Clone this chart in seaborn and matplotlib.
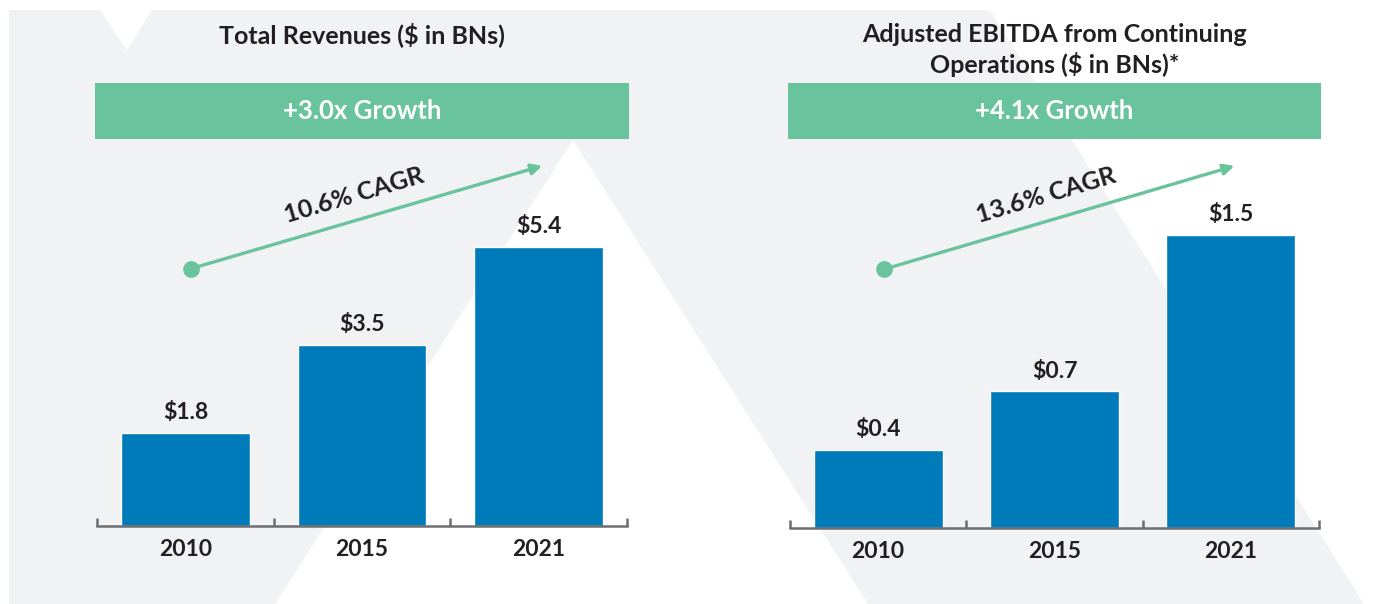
import matplotlib.pyplot as plt
from matplotlib.patches import Polygon, Rectangle
import seaborn as sns

# Data
years = ["2010", "2015", "2021"]
revenue = [1.8, 3.5, 5.4]
ebitda = [0.4, 0.7, 1.5]
titles = ["Total Revenues ($ in BNs)",
          "Adjusted EBITDA from Continuing\nOperations ($ in BNs)*"]
growth = ["+3.0x Growth", "+4.1x Growth"]
cagr = ["10.6% CAGR", "13.6% CAGR"]

BLUE = "#007BBA"
GREEN = "#69C39C"
GRAY = "#F1F2F4"
DARK = "#231F20"
AXIS = "#6D6E71"

sns.set_style("white")
plt.rcParams["font.family"] = ["Lato", "DejaVu Sans"]

W, H = 1374, 604
fig = plt.figure(figsize=(W / 100, H / 100), dpi=100)

# light grey watermark background (pixel coordinates)
bg = fig.add_axes([0, 0, 1, 1], zorder=-1)
bg.set_xlim(0, W)
bg.set_ylim(H, 0)
bg.axis("off")
bg.add_patch(Polygon([(9, 10), (100, 10), (127, 50), (152, 10), (990, 10),
                      (1364, 604), (9, 604)], closed=True, color=GRAY, lw=0))
bg.add_patch(Polygon([(573, 140), (275, 604), (868, 604)], closed=True,
                     color="white", lw=0))

# panel axes: [left, bottom, width, height] in pixels
panels = [(97, 526, 530, 386), (790, 528, 529, 388)]
series = [revenue, ebitda]
ytops = [7.47, 1.986]

for i, (px, base, pw, ph) in enumerate(panels):
    ax = fig.add_axes([px / W, (H - base) / H, pw / W, ph / H])
    vals = series[i]
    sns.barplot(x=years, y=vals, ax=ax, color=BLUE, saturation=1, width=0.73)
    ax.set_xlim(-0.5, 2.5)
    ax.set_ylim(0, ytops[i])
    ax.patch.set_alpha(0)
    sns.despine(ax=ax, left=True)
    ax.spines["bottom"].set_color(AXIS)
    ax.spines["bottom"].set_linewidth(1.8)
    ax.set_yticks([])
    ax.set_xlabel("")
    ax.set_ylabel("")
    ax.set_xticks([-0.5, 0.5, 1.5, 2.5], minor=True)
    ax.tick_params(axis="x", which="major", bottom=True, length=0, pad=9,
                   labelsize=16.5, labelcolor=DARK)
    ax.tick_params(axis="x", which="minor", bottom=True, direction="in",
                   length=6, width=1.8, color=AXIS)
    for lab in ax.get_xticklabels():
        lab.set_fontweight("bold")
    ax.bar_label(ax.containers[0], labels=[f"${v:.1f}" for v in vals],
                 padding=7, fontsize=16.5, fontweight="bold", color=DARK)

    # title
    ty = (base - 35) / ph if i == 0 else (base - 50) / ph
    ax.text(0.5, ty, titles[i], transform=ax.transAxes, ha="center",
            va="center", fontsize=18, fontweight="bold", color=DARK,
            linespacing=1.32)

    # green growth banner
    ax.add_patch(Rectangle((-0.004, 1.003), 1.008, 0.145,
                           transform=ax.transAxes, color=GREEN, lw=0,
                           clip_on=False))
    ax.text(0.5, 1.0755, growth[i], transform=ax.transAxes, ha="center",
            va="center", fontsize=18.5, fontweight="bold", color="white")

    # CAGR arrow
    ax.annotate("", xy=(0.84, 0.933), xytext=(0.178, 0.667),
                xycoords="axes fraction",
                arrowprops=dict(arrowstyle="-|>", color=GREEN, lw=2.4,
                                mutation_scale=16, shrinkA=0, shrinkB=0))
    ax.plot([0.178], [0.667], "o", transform=ax.transAxes, ms=11,
            color=GREEN, clip_on=False)
    ax.text(0.485, 0.858, cagr[i], transform=ax.transAxes, ha="center",
            va="center", rotation=16.5, rotation_mode="anchor",
            fontsize=18, fontweight="bold", color=DARK)

fig.savefig("out.png", dpi=100)
